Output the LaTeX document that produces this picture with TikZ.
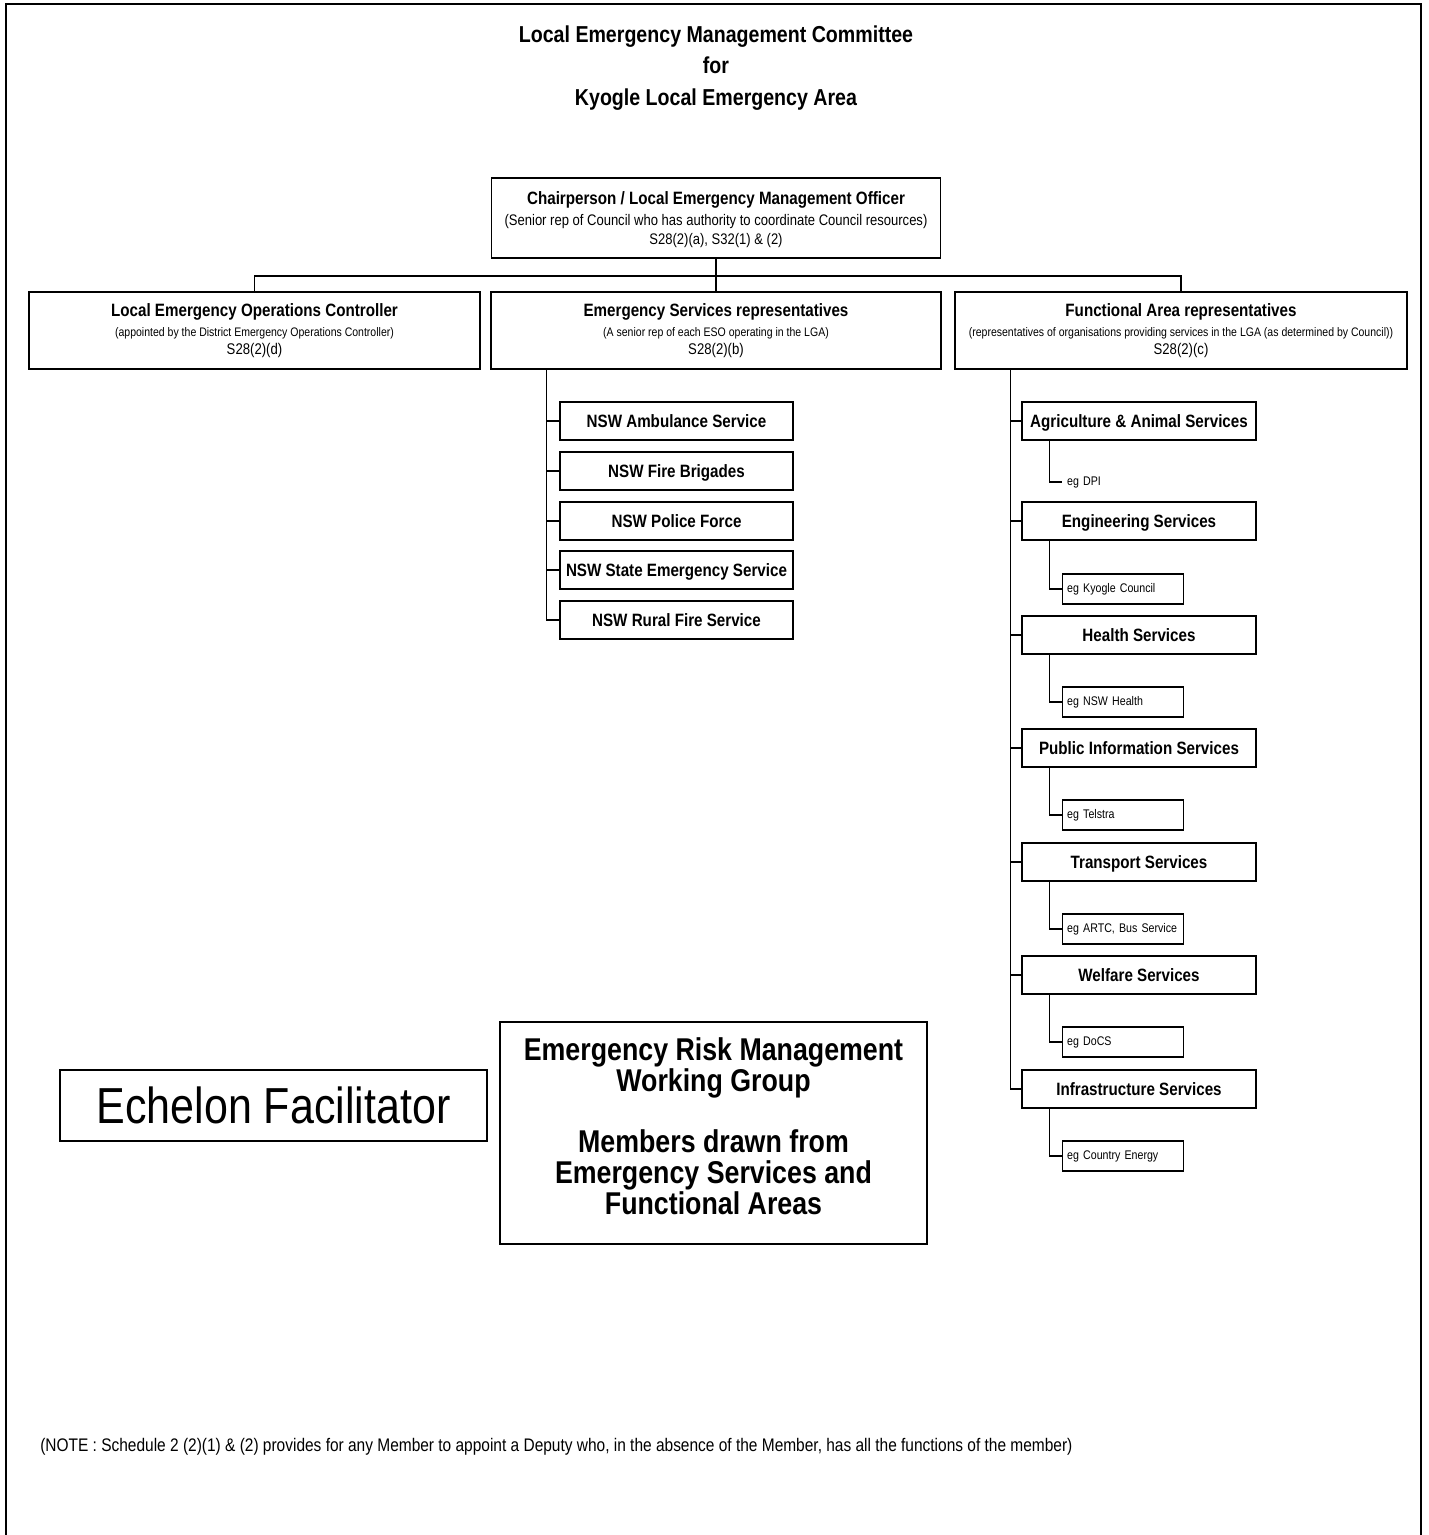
\documentclass[tikz,border=0pt]{standalone}
\usepackage{fontspec}
\setmainfont{Liberation Sans}[FakeStretch=0.85]
\usepackage{tikz}
\usetikzlibrary{positioning}
\newcommand{\ttlfont}{\bfseries\fontsize{16.4}{22.4}\selectfont}
\newcommand{\hdfont}{\bfseries\fontsize{12.7}{15}\selectfont}
\newcommand{\chsubfont}{\fontsize{10.9}{15}\selectfont}
\newcommand{\smlfont}{\fontsize{8.8}{14}\selectfont}
\newcommand{\secfont}{\fontsize{11}{14}\selectfont}
\newcommand{\memfont}{\bfseries\fontsize{12.7}{15}\selectfont}
\newcommand{\egfont}{\fontsize{8.9}{11}\selectfont}

\begin{document}
\begin{tikzpicture}[x=0.25mm, y=-0.25mm,
  box/.style={draw, line width=1.2pt, align=center, inner sep=0pt},
  unitbox/.style={box, minimum width=112.75mm, minimum height=19.25mm},
  memberbox/.style={box, font=\memfont, minimum width=58.5mm, minimum height=9.5mm,
    text height=9.1pt, text depth=0pt},
  egbox/.style={draw, line width=1pt, anchor=west, font=\egfont, text width=28mm,
    inner xsep=1.125mm, inner ysep=0pt, minimum height=7.5mm, align=left},
  wire/.style={line width=0.8pt}]
  \useasboundingbox (0,0) rectangle (1428,1535);

  % 1. Khung ngoai
  \draw[line width=2pt] (6,1535) -- (6,4) -- (1421,4) -- (1421,1535);

  % 2. Tieu de
  \node[align=center, font=\ttlfont] (title) at (716,68) {Local Emergency Management Committee\\for\\Kyogle Local Emergency Area};

  % 3. Chu tich
  \node[box, minimum width=112.25mm, minimum height=20mm, text depth=0pt] (chair) at (716,218) {%
    {\hdfont Chairperson / Local Emergency Management Officer}\\[3pt]
    {\chsubfont (Senior rep of Council who has authority to coordinate Council resources)}\\[2pt]
    {\chsubfont S28(2)(a), S32(1) \& (2)}};

  % 4. Ba nhom thanh vien
  \node[unitbox] (leoc) at (254.5,330.5) {%
    {\hdfont Local Emergency Operations Controller}\\[2pt]
    {\smlfont (appointed by the District Emergency Operations Controller)}\\[1pt]
    {\secfont S28(2)(d)}};
  \node[unitbox, minimum width=112.5mm] (esr) at (716,330.5) {%
    {\hdfont Emergency Services representatives}\\[2pt]
    {\smlfont (A senior rep of each ESO operating in the LGA)}\\[1pt]
    {\secfont S28(2)(b)}};
  \node[unitbox, minimum width=113mm] (far) at (1181,330.5) {%
    {\hdfont Functional Area representatives}\\[2pt]
    {\smlfont (representatives of organisations providing services in the LGA (as determined by Council))}\\[1pt]
    {\secfont S28(2)(c)}};

  \coordinate (bus) at (716,276);
  \draw[wire] (chair.south) -- (bus) -- (esr.north);
  \draw[wire] (leoc.north) |- (bus) -| (far.north);

  % 5. Co quan khan cap
  \node[memberbox, minimum width=58.25mm] (amb) at (676.5,421) {NSW Ambulance Service};
  \node[memberbox, minimum width=58.25mm] (brig) at (676.5,471) {NSW Fire Brigades};
  \node[memberbox, minimum width=58.25mm] (pol) at (676.5,521) {NSW Police Force};
  \node[memberbox, minimum width=58.25mm] (ses) at (676.5,570) {NSW State Emergency Service};
  \node[memberbox, minimum width=58.25mm] (rfs) at (676.5,620) {NSW Rural Fire Service};

  \coordinate (esbus) at ([xshift=14mm]esr.south west);
  \foreach \k in {amb,brig,pol,ses,rfs}
    \draw[wire] (esbus) |- (\k.west);

  % 6. Linh vuc chuc nang
  \node[memberbox] (agri) at (1139,421) {Agriculture \& Animal Services};
  \node[memberbox] (eng) at (1139,521) {Engineering Services};
  \node[memberbox] (hlth) at (1139,635) {Health Services};
  \node[memberbox] (pinf) at (1139,748) {Public Information Services};
  \node[memberbox] (trns) at (1139,862) {Transport Services};
  \node[memberbox] (welf) at (1139,975) {Welfare Services};
  \node[memberbox] (infr) at (1139,1089) {Infrastructure Services};

  \coordinate (fabus) at ([xshift=14mm]far.south west);
  \foreach \k in {agri,eng,hlth,pinf,trns,welf,infr}
    \draw[wire] (fabus) |- (\k.west);

  % 7. Vi du to chuc
  \node[egbox, draw=none] (dpi) at (1062,482) {eg DPI};
  \node[egbox] (kyo) at (1062,589) {eg Kyogle Council};
  \node[egbox] (nswh) at (1062,702) {eg NSW Health};
  \node[egbox] (tel) at (1062,815) {eg Telstra};
  \node[egbox] (artc) at (1062,929) {eg ARTC, Bus Service};
  \node[egbox] (docs) at (1062,1042) {eg DoCS};
  \node[egbox] (cen) at (1062,1156) {eg Country Energy};

  \foreach \p/\s in {agri/dpi, eng/kyo, hlth/nswh, pinf/tel, trns/artc, welf/docs, infr/cen}
    \draw[wire] ([xshift=7mm]\p.south west) |- (\s.west);

  % 8. Hop duoi
  \node[box, minimum width=106.75mm, minimum height=17.75mm, font=\fontsize{36}{40}\selectfont] (ech) at (273.5,1105.5) {Echelon Facilitator};
  \node[box, minimum width=106.75mm, minimum height=55.5mm, text depth=10pt,
    font=\bfseries\fontsize{22.4}{22}\selectfont] (erm) at (713.5,1133) {%
    Emergency Risk Management\\Working Group\\[21pt]Members drawn from\\Emergency Services and\\Functional Areas};

  % 9. Ghi chu
  \node[anchor=west, font=\fontsize{12.95}{14}\selectfont, inner sep=0pt] (note) at (40,1447) {(NOTE : Schedule 2 (2)(1) \& (2) provides for any Member to appoint a Deputy who, in the absence of the Member, has all the functions of the member)};
\end{tikzpicture}
\end{document}
